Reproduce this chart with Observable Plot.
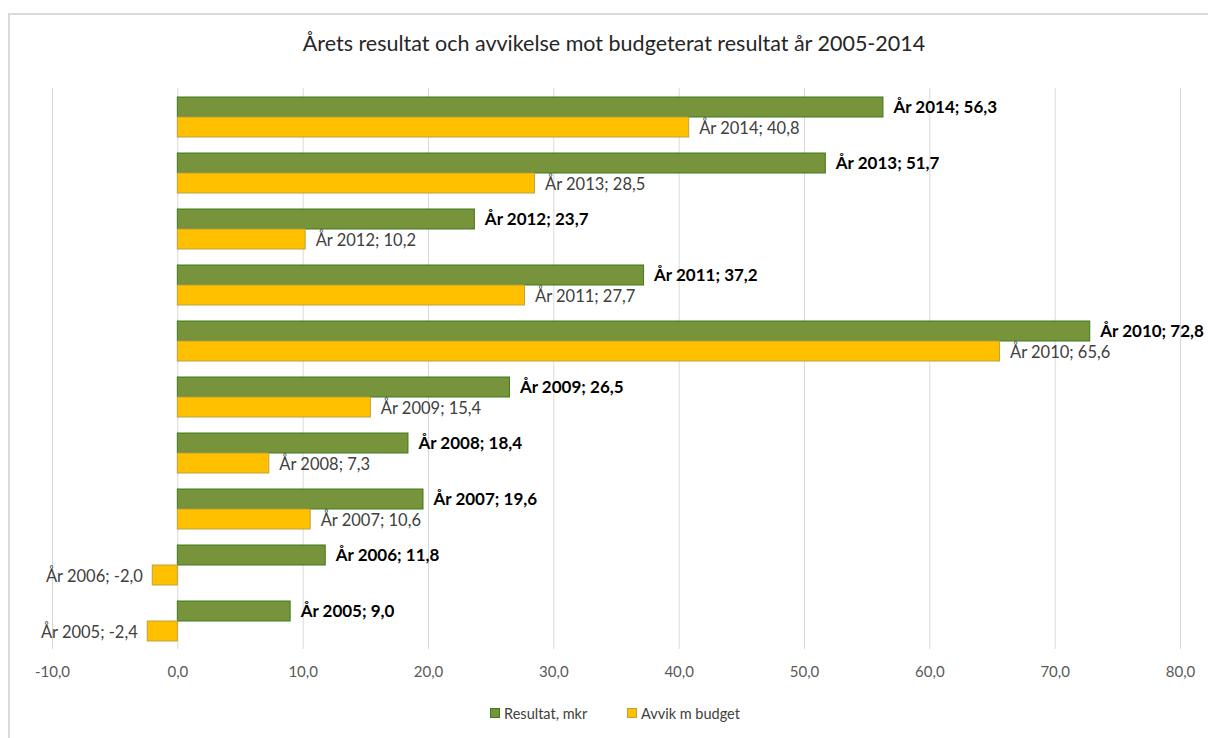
<!DOCTYPE html>
<html>
<head>
<meta charset="utf-8">
<script src="https://cdn.jsdelivr.net/npm/d3@7"></script>
<script src="https://cdn.jsdelivr.net/npm/@observablehq/plot@0.6"></script>
<style>
  body { margin: 0; background: #fff; font-family: Lato, "Open Sans", sans-serif; }
  #frame { position: absolute; left: 8px; top: 13px; width: 1220px; height: 740px; border-left: 2px solid #d9d9d9; border-top: 2px solid #d9d9d9; }
  #title { position: absolute; left: 0; width: 1228px; top: 30px; text-align: center; font-size: 21.5px; color: #262626; }
  #chart { position: absolute; left: 0; top: 70px; }
  #legend { position: absolute; top: 704px; left: 0; width: 1230px; text-align: center; font-size: 14.5px; color: #404040; }
  .item { display: inline-flex; align-items: center; margin: 0 18px; }
  .sw { width: 8px; height: 8px; margin-right: 4px; display: inline-block; }
</style>
</head>
<body>
<div id="frame"></div>
<div id="title">Årets resultat och avvikelse mot budgeterat resultat år 2005-2014</div>
<div id="chart"></div>
<div id="legend">
  <span class="item"><span class="sw" style="background:#77933C;border:1px solid #3f7a1a"></span>Resultat, mkr</span>
  <span class="item"><span class="sw" style="background:#FFC000;border:1px solid #c0a040"></span>Avvik m budget</span>
</div>
<script>
const years = [2014, 2013, 2012, 2011, 2010, 2009, 2008, 2007, 2006, 2005];
const resultat = [56.3, 51.7, 23.7, 37.2, 72.8, 26.5, 18.4, 19.6, 11.8, 9.0];
const avvik = [40.8, 28.5, 10.2, 27.7, 65.6, 15.4, 7.3, 10.6, -2.0, -2.4];
const xTicks = [-10, 0, 10, 20, 30, 40, 50, 60, 70, 80];

const fmt = v => v.toFixed(1).replace(".", ",");
const rows = years.map((y, i) => ({year: String(y), res: resultat[i], avv: avvik[i]}));

const chart = Plot.plot({
  width: 1208,
  height: 620,
  marginLeft: 52,
  marginRight: 28,
  marginTop: 18,
  marginBottom: 41,
  style: {fontFamily: "Lato, 'Open Sans', sans-serif", background: "transparent", fontSize: "15px", color: "#595959"},
  x: {domain: [-10, 80], ticks: xTicks, tickFormat: fmt, tickSize: 0, tickPadding: 17, label: null},
  y: {domain: years.map(String), padding: 0, axis: null},
  marks: [
    Plot.ruleX(xTicks, {stroke: "#d9d9d9", strokeWidth: 1}),
    Plot.barX(rows, {x: "res", y: "year", fill: "#77933C", stroke: "#3f7a1a", strokeWidth: 1, insetTop: 18, insetBottom: 18, dy: -10}),
    Plot.barX(rows, {x: "avv", y: "year", fill: "#FFC000", stroke: "#c0a040", strokeWidth: 1, insetTop: 18, insetBottom: 18, dy: 10}),
    Plot.text(rows, {x: "res", y: "year", text: d => `År ${d.year}; ${fmt(d.res)}`, dy: -10, dx: 10, textAnchor: "start", fontWeight: "bold", fontSize: 17, fill: "#000"}),
    Plot.text(rows.filter(d => d.avv >= 0), {x: "avv", y: "year", text: d => `År ${d.year}; ${fmt(d.avv)}`, dy: 11, dx: 10, textAnchor: "start", fontSize: 16.5, fill: "#404040"}),
    Plot.text(rows.filter(d => d.avv < 0), {x: "avv", y: "year", text: d => `År ${d.year}; ${fmt(d.avv)}`, dy: 11, dx: -10, textAnchor: "end", fontSize: 16.5, fill: "#404040"})
  ]
});
document.getElementById("chart").appendChild(chart);
</script>
</body>
</html>
